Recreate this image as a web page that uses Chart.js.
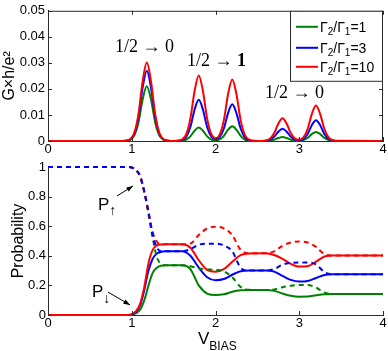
<!DOCTYPE html>
<html>
<head>
<meta charset="utf-8">
<script src="https://cdn.jsdelivr.net/npm/chart.js@4.4.1/dist/chart.umd.min.js"></script>
<style>
  html, body { margin: 0; padding: 0; background: #fff; }
  #wrap { position: relative; width: 388px; height: 351px; overflow: hidden; }
  #top { position: absolute; left: 0; top: 0; }
  #bottom { position: absolute; left: 0; top: 155px; }
</style>
</head>
<body>
<div id="wrap">
  <canvas id="top" width="388" height="160"></canvas>
  <canvas id="bottom" width="388" height="196"></canvas>
</div>
<script>
// --- conductance panel (G x h/e^2 vs bias) ---
const gX = [0, 0.85, 0.93, 0.98, 1.03, 1.08, 1.13, 1.18, 1.23, 1.28, 1.33, 1.38, 1.43,
  1.5, 1.55, 1.6, 1.65, 1.7, 1.75, 1.8, 1.85, 1.9, 1.95, 2.0, 2.05, 2.1, 2.15, 2.2, 2.25, 2.3, 2.35, 2.4, 2.45, 2.5,
  2.55, 2.6, 2.65, 2.7, 2.75, 2.8, 2.85, 2.9, 2.95, 3.0, 3.05, 3.1, 3.15, 3.2, 3.25, 3.3, 3.35, 3.4, 3.45, 4]
const gGreen = [0, 0, 0.00008, 0.00046, 0.0021, 0.00714, 0.01596, 0.021, 0.01596, 0.00714, 0.0021, 0.00046, 0.00008,
  0, 0.00002, 0.00011, 0.00052, 0.00177, 0.00395, 0.0052, 0.00395, 0.00177, 0.00054, 0.00024, 0.00059, 0.00194, 0.00433, 0.0057, 0.00433, 0.00194, 0.00057, 0.00013, 0.00002, 0,
  0.00001, 0.00003, 0.00015, 0.00051, 0.00114, 0.0015, 0.00114, 0.00051, 0.00016, 0.00011, 0.00036, 0.00119, 0.00266, 0.0035, 0.00266, 0.00119, 0.00035, 0.00008, 0.00001, 0]
const gBlue = [0, 0, 0.00011, 0.00059, 0.0027, 0.00918, 0.02052, 0.027, 0.02052, 0.00918, 0.0027, 0.00059, 0.00011,
  0, 0.00006, 0.00035, 0.00158, 0.00537, 0.01201, 0.0158, 0.01201, 0.00537, 0.00164, 0.00066, 0.00147, 0.00479, 0.01072, 0.0141, 0.01072, 0.00479, 0.00141, 0.00031, 0.00006, 0,
  0.00002, 0.0001, 0.00047, 0.0016, 0.00357, 0.0047, 0.00357, 0.0016, 0.0005, 0.00028, 0.00082, 0.00272, 0.00608, 0.008, 0.00608, 0.00272, 0.0008, 0.00018, 0.00003, 0]
const gRed = [0, 0, 0.00012, 0.00066, 0.00301, 0.01023, 0.02288, 0.0301, 0.02288, 0.01023, 0.00301, 0.00066, 0.00012,
  0, 0.0001, 0.00055, 0.00252, 0.00857, 0.01915, 0.0252, 0.01915, 0.00857, 0.00261, 0.00107, 0.00246, 0.00802, 0.01794, 0.0236, 0.01794, 0.00802, 0.00236, 0.00052, 0.00009, 0,
  0.00003, 0.00019, 0.00087, 0.00296, 0.00661, 0.0087, 0.00661, 0.00296, 0.00092, 0.00049, 0.00139, 0.00462, 0.01034, 0.0136, 0.01034, 0.00462, 0.00136, 0.0003, 0.00005, 0]
const ratios = ['1', '3', '10']

// --- probability panel ---
const pX = [0, 0.95, 1.0, 1.05, 1.1, 1.15, 1.2, 1.25, 1.3, 1.35, 1.4, 1.6, 1.7, 1.8, 1.9, 2.0,
  2.1, 2.2, 2.3, 2.4, 2.6, 2.7, 2.8, 2.9, 3.0, 3.1, 3.2, 3.3, 3.4, 4]
// P down (solid)
const downGreen = [0, 0, 0.002, 0.012, 0.035, 0.10, 0.20, 0.285, 0.32, 0.333, 0.336, 0.336, 0.31, 0.20, 0.145, 0.135,
  0.14, 0.157, 0.167, 0.169, 0.169, 0.163, 0.145, 0.13, 0.124, 0.125, 0.133, 0.14, 0.142, 0.142]
const downBlue = [0, 0, 0.003, 0.02, 0.065, 0.17, 0.30, 0.38, 0.415, 0.427, 0.43, 0.43, 0.40, 0.32, 0.255, 0.235,
  0.243, 0.272, 0.296, 0.30, 0.30, 0.293, 0.265, 0.237, 0.226, 0.23, 0.25, 0.27, 0.275, 0.275]
const downRed = [0, 0, 0.004, 0.025, 0.075, 0.19, 0.35, 0.44, 0.47, 0.477, 0.478, 0.478, 0.455, 0.37, 0.305, 0.293,
  0.31, 0.36, 0.405, 0.416, 0.417, 0.405, 0.38, 0.345, 0.327, 0.33, 0.36, 0.395, 0.402, 0.402]
// P up (dashed)
const upGreen = [1, 1, 0.997, 0.98, 0.935, 0.83, 0.68, 0.52, 0.39, 0.345, 0.336, 0.336, 0.33, 0.315, 0.308, 0.305,
  0.295, 0.255, 0.19, 0.17, 0.169, 0.172, 0.188, 0.198, 0.202, 0.202, 0.185, 0.152, 0.142, 0.142]
const upBlue = [1, 1, 0.997, 0.98, 0.94, 0.835, 0.70, 0.54, 0.455, 0.43, 0.43, 0.43, 0.445, 0.475, 0.482, 0.482,
  0.47, 0.43, 0.32, 0.30, 0.30, 0.31, 0.34, 0.352, 0.355, 0.355, 0.342, 0.29, 0.275, 0.275]
const upRed = [1, 1, 0.997, 0.98, 0.935, 0.83, 0.69, 0.56, 0.495, 0.478, 0.478, 0.478, 0.483, 0.54, 0.585, 0.597,
  0.585, 0.54, 0.44, 0.417, 0.417, 0.43, 0.468, 0.49, 0.497, 0.49, 0.46, 0.412, 0.402, 0.402]

Chart.defaults.font.family = "'Liberation Sans', Arial, sans-serif"
Chart.defaults.font.size = 13
Chart.defaults.color = '#000'

const ink = '#2b2b2b'
const green = '#008000'
const blue = '#0000ff'
const red = '#ff0000'

function line (label, xs, ys, color, dashed, order) {
  return {
    label,
    data: xs.map((x, i) => ({ x, y: ys[i] })),
    borderColor: color,
    borderWidth: 2,
    borderDash: dashed ? [5, 4] : [],
    pointRadius: 0,
    fill: false,
    cubicInterpolationMode: 'monotone',
    clip: 4,
    order
  }
}

// MATLAB-ish inward ticks (+ full box for the top axes)
function frame (box) {
  return {
    id: 'frame',
    afterDatasetsDraw (chart) {
      const { ctx, chartArea: a, scales: { x, y } } = chart
      ctx.save()
      ctx.strokeStyle = ink
      ctx.lineWidth = 1
      ctx.beginPath()
      x.ticks.forEach(t => {
        const px = Math.round(x.getPixelForValue(t.value)) + 0.5
        ctx.moveTo(px, a.bottom); ctx.lineTo(px, a.bottom - 4)
        if (box) { ctx.moveTo(px, a.top); ctx.lineTo(px, a.top + 4) }
      })
      y.ticks.forEach(t => {
        const py = Math.round(y.getPixelForValue(t.value)) + 0.5
        ctx.moveTo(a.left, py); ctx.lineTo(a.left + 4, py)
        if (box) { ctx.moveTo(a.right, py); ctx.lineTo(a.right - 4, py) }
      })
      if (box) {
        ctx.moveTo(a.left, a.top + 0.5); ctx.lineTo(a.right, a.top + 0.5)
        ctx.moveTo(a.right - 0.5, a.top); ctx.lineTo(a.right - 0.5, a.bottom)
      }
      ctx.stroke()
      ctx.restore()
    }
  }
}

function piece (ctx, txt, x, y, font) {
  ctx.font = font
  ctx.fillText(txt, x, y)
  return x + ctx.measureText(txt).width
}

function arrow (ctx, x0, y0, x1, y1) {
  ctx.beginPath(); ctx.moveTo(x0, y0); ctx.lineTo(x1, y1); ctx.stroke()
  const ang = Math.atan2(y1 - y0, x1 - x0)
  const h = 7
  ctx.beginPath()
  ctx.moveTo(x1, y1)
  ctx.lineTo(x1 - h * Math.cos(ang - 0.35), y1 - h * Math.sin(ang - 0.35))
  ctx.lineTo(x1 - h * Math.cos(ang + 0.35), y1 - h * Math.sin(ang + 0.35))
  ctx.closePath(); ctx.fill()
}

const serif = "'Liberation Serif', 'Times New Roman', serif"
const sans = "'Liberation Sans', Arial, sans-serif"

const topNotes = {
  id: 'topNotes',
  afterDraw (chart) {
    const { ctx, scales: { x, y } } = chart
    ctx.save()
    ctx.fillStyle = '#000'
    ctx.textBaseline = 'alphabetic'
    let tx = piece(ctx, '1/2 \u2192 0', x.getPixelForValue(0.80), y.getPixelForValue(0.034), '18px ' + serif)
    tx = piece(ctx, '1/2 \u2192 ', x.getPixelForValue(1.66), y.getPixelForValue(0.0287), '18px ' + serif)
    piece(ctx, '1', tx, y.getPixelForValue(0.0287), 'bold 18px ' + serif)
    piece(ctx, '1/2 \u2192 0', x.getPixelForValue(2.59), y.getPixelForValue(0.0165), '18px ' + serif)
    ctx.restore()
  }
}

const boxLegend = {
  id: 'boxLegend',
  afterDraw (chart) {
    const { ctx, chartArea: a } = chart
    const bx = 290
    const by = a.top
    const bw = a.right - bx
    const bh = 71
    ctx.save()
    ctx.fillStyle = '#fff'
    ctx.fillRect(bx, by, bw, bh)
    ctx.strokeStyle = ink
    ctx.lineWidth = 1
    ctx.strokeRect(bx + 0.5, by + 0.5, bw - 1, bh - 1)
    const rows = [16, 37, 56]
    chart.data.datasets.forEach((ds, i) => {
      const yy = by + rows[i]
      ctx.strokeStyle = ds.borderColor
      ctx.lineWidth = 2
      ctx.beginPath(); ctx.moveTo(bx + 6, yy); ctx.lineTo(bx + 28, yy); ctx.stroke()
      ctx.fillStyle = '#000'
      let tx = bx + 30
      tx = piece(ctx, '\u0393', tx, yy + 5, '14px ' + sans)
      tx = piece(ctx, '2', tx, yy + 8, '10px ' + sans)
      tx = piece(ctx, '/\u0393', tx, yy + 5, '14px ' + sans)
      tx = piece(ctx, '1', tx, yy + 8, '10px ' + sans)
      piece(ctx, '=' + ratios[i], tx, yy + 5, '14px ' + sans)
    })
    ctx.restore()
  }
}

const bottomNotes = {
  id: 'bottomNotes',
  afterDraw (chart) {
    const { ctx, scales: { x, y } } = chart
    ctx.save()
    ctx.fillStyle = '#000'
    ctx.strokeStyle = '#000'
    ctx.lineWidth = 1
    ctx.textBaseline = 'alphabetic'
    // P up
    let tx = piece(ctx, 'P', x.getPixelForValue(0.597), y.getPixelForValue(0.709), '17px ' + sans)
    piece(ctx, '\u2191', tx, y.getPixelForValue(0.709) + 5, '14px ' + sans)
    arrow(ctx, x.getPixelForValue(0.824), y.getPixelForValue(0.804), x.getPixelForValue(1.015), y.getPixelForValue(0.872))
    // P down
    tx = piece(ctx, 'P', x.getPixelForValue(0.525), y.getPixelForValue(0.122), '17px ' + sans)
    piece(ctx, '\u2193', tx, y.getPixelForValue(0.122) + 6, '14px ' + sans)
    arrow(ctx, x.getPixelForValue(0.716), y.getPixelForValue(0.155), x.getPixelForValue(0.979), y.getPixelForValue(0.068))
    // x axis label V_BIAS
    tx = piece(ctx, 'V', 198, 189, '17px ' + sans)
    piece(ctx, 'BIAS', tx, 195, '12px ' + sans)
    ctx.restore()
  }
}

function baseOptions (padTop, yMax, yStep, xHeight, yTitle, titlePad, labelPad) {
  return {
    responsive: false,
    animation: false,
    events: [],
    layout: { padding: { top: padTop, right: 5, bottom: 0, left: 0 }, autoPadding: false },
    plugins: { legend: { display: false }, tooltip: { enabled: false } },
    scales: {
      x: {
        type: 'linear',
        min: 0,
        max: 4,
        grid: { display: false, drawTicks: false },
        border: { color: ink },
        ticks: { stepSize: 1, padding: 1, maxRotation: 0 },
        afterFit: s => { s.height = xHeight }
      },
      y: {
        min: 0,
        max: yMax,
        grid: { display: false, drawTicks: false },
        border: { color: ink },
        ticks: { stepSize: yStep, padding: labelPad, callback: v => String(+v.toFixed(3)) },
        title: { display: true, text: yTitle, font: { size: 16 }, padding: { top: titlePad, bottom: 0 } },
        afterFit: s => { s.width = 48 }
      }
    }
  }
}

new Chart(document.getElementById('top'), {
  type: 'line',
  data: {
    datasets: [
      line('\u0393\u2082/\u0393\u2081=1', gX, gGreen, green, false, 3),
      line('\u0393\u2082/\u0393\u2081=3', gX, gBlue, blue, false, 2),
      line('\u0393\u2082/\u0393\u2081=10', gX, gRed, red, false, 1)
    ]
  },
  options: baseOptions(5, 0.05, 0.01, 19, 'G\u00d7h/e\u00b2', 0, 3),
  plugins: [frame(true), topNotes, boxLegend]
})

new Chart(document.getElementById('bottom'), {
  type: 'line',
  data: {
    datasets: [
      line('P\u2193 1', pX, downGreen, green, false, 6),
      line('P\u2193 3', pX, downBlue, blue, false, 5),
      line('P\u2193 10', pX, downRed, red, false, 4),
      line('P\u2191 1', pX, upGreen, green, true, 3),
      line('P\u2191 3', pX, upBlue, blue, true, 1),
      line('P\u2191 10', pX, upRed, red, true, 2)
    ]
  },
  options: baseOptions(12, 1, 0.2, 36, 'Probability', 9, 2),
  plugins: [frame(false), bottomNotes]
})
</script>
</body>
</html>
